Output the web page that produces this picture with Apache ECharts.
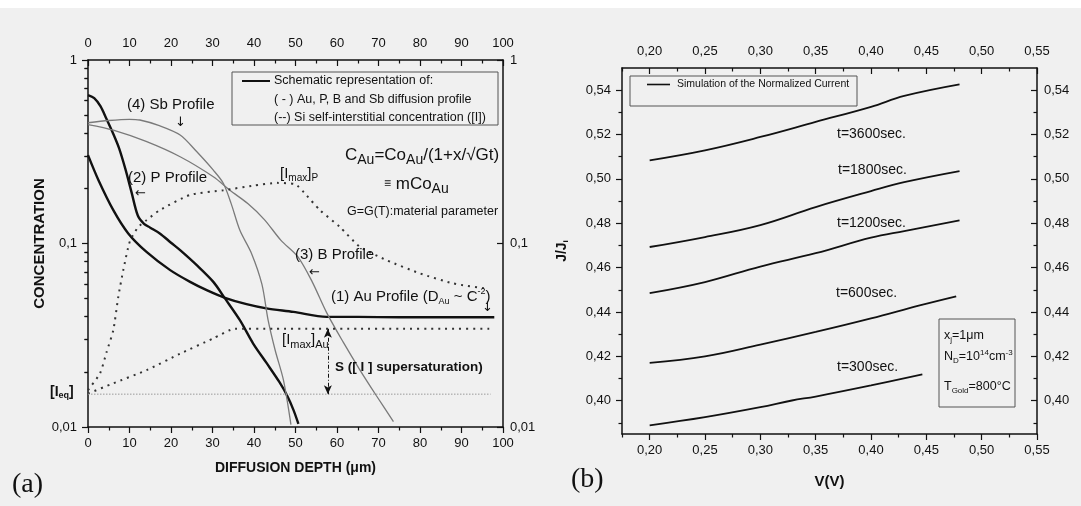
<!DOCTYPE html>
<html><head><meta charset="utf-8">
<script src="https://cdn.jsdelivr.net/npm/echarts@6/dist/echarts.min.js"></script>
<style>html,body{margin:0;padding:0;background:#f0f0f0}#c{width:1081px;height:506px}</style>
</head><body><div id="c"></div><script>
// ---------- Panel (a): concentration vs diffusion depth ----------
const auDepth = [0, 2.5, 6.1, 9.7, 14.1, 19.8, 24.6, 28.6, 33, 38.2, 43, 49.5, 57.5, 65, 75, 85, 97.9];
const auConc  = [0.303, 0.222, 0.152, 0.1135, 0.090, 0.0716, 0.0618, 0.0557, 0.0506, 0.0467, 0.0443, 0.0424, 0.0398, 0.0398, 0.0396, 0.0396, 0.0396];
const pDepth  = [0, 1.5, 3, 4.5, 6, 7.5, 9, 10.5, 12, 13.5, 15, 17.3, 20, 22.2, 26.2, 30.2, 33, 36.6, 39.8, 43.1, 46.1, 48, 49.5, 50.7];
const pConc   = [0.644, 0.62, 0.56, 0.475, 0.40, 0.33, 0.255, 0.19, 0.142, 0.128, 0.122, 0.1135, 0.101, 0.092, 0.0762, 0.0618, 0.0502, 0.0382, 0.0285, 0.0222, 0.0176, 0.0148, 0.0124, 0.0104];
const sbDepth = [0, 5, 10, 12.5, 17, 22.2, 26, 30.2, 32.6, 34.5, 36.6, 39.4, 41.9, 43.4, 45.1, 47.1, 48.9];
const sbConc  = [0.455, 0.468, 0.475, 0.471, 0.44, 0.39, 0.32, 0.251, 0.213, 0.165, 0.118, 0.0883, 0.06, 0.0382, 0.0262, 0.018, 0.0103];
const bDepth  = [0, 6.1, 14, 22.2, 30.2, 34.2, 38.5, 42.5, 46.5, 50.5, 54, 57.5, 61.5, 65.5, 69.5, 73.6];
const bConc   = [0.445, 0.415, 0.36, 0.297, 0.231, 0.195, 0.165, 0.135, 0.104, 0.085, 0.062, 0.042, 0.029, 0.0205, 0.0148, 0.0107];
const iPDepth = [0, 2.9, 4.5, 6.1, 7.3, 8.5, 10.1, 12.1, 14.1, 17.3, 24.6, 32.6, 40, 45.5, 50, 52, 55.9, 60.7, 65.5, 72, 80, 88, 96.5];
const iPConc  = [0.0159, 0.0196, 0.0257, 0.0337, 0.0512, 0.0716, 0.103, 0.123, 0.134, 0.152, 0.184, 0.195, 0.207, 0.214, 0.21, 0.19, 0.152, 0.123, 0.096, 0.081, 0.0687, 0.0606, 0.0565];
const iAuDepth = [0, 6.1, 14.1, 22.2, 30.2, 35.4, 45, 55, 65, 75, 85, 97];
const iAuConc  = [0.0152, 0.0173, 0.0204, 0.0251, 0.0304, 0.0343, 0.0343, 0.0343, 0.0343, 0.0343, 0.0343, 0.0343];
const ieqDepth = [0, 97];
const ieqConc  = [0.0151, 0.0151];
const superSatDepth = 57.8;
const superSatConc  = [0.0343, 0.0151];
const concMinorTicks = [0.02,0.03,0.04,0.05,0.06,0.07,0.08,0.09,0.2,0.3,0.4,0.5,0.6,0.7,0.8,0.9];

// ---------- Panel (b): J/Ji vs V ----------
const vTicks = [0.20, 0.25, 0.30, 0.35, 0.40, 0.45, 0.50, 0.55];
const vMinor = [0.175, 0.225, 0.275, 0.325, 0.375, 0.425, 0.475, 0.525];
const jTicks = [0.40, 0.42, 0.44, 0.46, 0.48, 0.50, 0.52, 0.54];
const jMinor = [0.39, 0.41, 0.43, 0.45, 0.47, 0.49, 0.51, 0.53];
const v3600 = [0.20, 0.25, 0.30, 0.35, 0.40, 0.43, 0.48];
const j3600 = [0.5084, 0.5129, 0.5189, 0.5257, 0.5325, 0.5374, 0.5426];
const v1800 = [0.20, 0.25, 0.30, 0.35, 0.40, 0.43, 0.48];
const j1800 = [0.4693, 0.4738, 0.4792, 0.4873, 0.4945, 0.4985, 0.5035];
const v1200 = [0.20, 0.25, 0.30, 0.35, 0.40, 0.43, 0.48];
const j1200 = [0.4485, 0.4535, 0.4605, 0.4665, 0.4735, 0.4765, 0.4813];
const v600  = [0.20, 0.25, 0.30, 0.35, 0.40, 0.444, 0.477];
const j600  = [0.4171, 0.4200, 0.4253, 0.4310, 0.4371, 0.4430, 0.4471];
const v300  = [0.20, 0.25, 0.30, 0.3285, 0.35, 0.40, 0.4464];
const j300  = [0.3889, 0.3926, 0.3971, 0.4001, 0.4019, 0.4069, 0.4119];

const FONT = 'Liberation Sans';
const INK = '#111';
const zip = (a, b) => a.map((v, i) => [v, b[i]]);

const chart = echarts.init(document.getElementById('c'), null, {renderer: 'canvas'});

const aLine = {show: true, onZero: false, lineStyle: {color: INK, width: 1.5}};
const lab = (extra) => Object.assign({color: INK, fontFamily: FONT, fontSize: 13}, extra);
const tick = (inside, len) => ({show: true, inside, length: len, lineStyle: {color: INK, width: 1.2}});
const commaFix = d => v => Number(v).toFixed(d).replace('.', ',');
const logFmt = v => String(+Number(v).toPrecision(3)).replace('.', ',');
const nameStyle = {color: INK, fontFamily: FONT, fontWeight: 'bold', fontSize: 14};

function xLinear(grid, pos, inside, showLabel) {
  return {gridIndex: grid, type: 'value', position: pos, min: 0, max: 100, interval: 10,
    axisLine: aLine, axisTick: tick(inside, 6),
    minorTick: {show: true, splitNumber: 2, length: 3.5, lineStyle: {color: INK, width: 1.2}},
    axisLabel: lab({show: showLabel, margin: 10}), splitLine: {show: false}, minorSplitLine: {show: false}};
}

const xAxes = [
  Object.assign(xLinear(0, 'bottom', false, true), {name: 'DIFFUSION DEPTH (μm)', nameLocation: 'middle', nameGap: 34, nameTextStyle: nameStyle}),
  xLinear(0, 'top', true, true),
  // panel b
  {gridIndex: 1, type: 'value', position: 'bottom', min: 0.175, max: 0.55,
   axisLine: aLine, axisTick: Object.assign(tick(false, 6), {customValues: vTicks}),
   axisLabel: lab({margin: 10, customValues: vTicks, formatter: commaFix(2)}), splitLine: {show: false},
   name: 'V(V)', nameLocation: 'middle', nameGap: 40, nameTextStyle: Object.assign({}, nameStyle, {fontSize: 15})},
  {gridIndex: 1, type: 'value', position: 'top', min: 0.175, max: 0.55,
   axisLine: aLine, axisTick: Object.assign(tick(true, 6), {customValues: vTicks}),
   axisLabel: lab({margin: 10, customValues: vTicks, formatter: commaFix(2)}), splitLine: {show: false}},
  {gridIndex: 1, type: 'value', position: 'bottom', min: 0.175, max: 0.55,
   axisLine: {show: false}, axisTick: Object.assign(tick(false, 3.5), {customValues: vMinor}),
   axisLabel: {show: false}, splitLine: {show: false}},
  {gridIndex: 1, type: 'value', position: 'top', min: 0.175, max: 0.55,
   axisLine: {show: false}, axisTick: Object.assign(tick(true, 3.5), {customValues: vMinor}),
   axisLabel: {show: false}, splitLine: {show: false}}
];

const logMinorVals = concMinorTicks.map(v => Math.log10(v));
const yAxes = [
  {gridIndex: 0, type: 'log', logBase: 10, min: 0.01, max: 1, position: 'left',
   axisLine: aLine, axisTick: tick(false, 6), axisLabel: lab({margin: 11, formatter: logFmt}), splitLine: {show: false},
   name: 'CONCENTRATION', nameLocation: 'middle', nameGap: 28, nameRotate: 90, nameTextStyle: Object.assign({}, nameStyle, {fontSize: 15})},
  {gridIndex: 0, type: 'log', logBase: 10, min: 0.01, max: 1, position: 'right',
   axisLine: aLine, axisTick: tick(true, 6), axisLabel: lab({margin: 7, formatter: logFmt}), splitLine: {show: false}},
  {gridIndex: 0, type: 'value', min: -2, max: 0, position: 'left',
   axisLine: {show: false}, axisTick: Object.assign(tick(false, 3.5), {customValues: logMinorVals}),
   axisLabel: {show: false}, splitLine: {show: false}},
  {gridIndex: 0, type: 'value', min: -2, max: 0, position: 'right',
   axisLine: {show: false}, axisTick: Object.assign(tick(true, 3.5), {customValues: logMinorVals}),
   axisLabel: {show: false}, splitLine: {show: false}},
  // panel b
  {gridIndex: 1, type: 'value', min: 0.385, max: 0.55, position: 'left',
   axisLine: aLine, axisTick: Object.assign(tick(false, 6), {customValues: jTicks}),
   axisLabel: lab({margin: 11, customValues: jTicks, formatter: commaFix(2)}), splitLine: {show: false},
   name: '{a|J/J}{b|i}', nameLocation: 'middle', nameGap: 52, nameRotate: 90,
   nameTextStyle: Object.assign({}, nameStyle, {rich: {a: {fontFamily: FONT, fontWeight: 'bold', fontSize: 14, color: INK}, b: {fontFamily: FONT, fontWeight: 'bold', fontSize: 8, color: INK, padding: [8, 0, 0, 0]}}})},
  {gridIndex: 1, type: 'value', min: 0.385, max: 0.55, position: 'right',
   axisLine: aLine, axisTick: Object.assign(tick(true, 6), {customValues: jTicks}),
   axisLabel: lab({margin: 7, customValues: jTicks, formatter: commaFix(2)}), splitLine: {show: false}},
  {gridIndex: 1, type: 'value', min: 0.385, max: 0.55, position: 'left',
   axisLine: {show: false}, axisTick: Object.assign(tick(false, 3.5), {customValues: jMinor}),
   axisLabel: {show: false}, splitLine: {show: false}},
  {gridIndex: 1, type: 'value', min: 0.385, max: 0.55, position: 'right',
   axisLine: {show: false}, axisTick: Object.assign(tick(true, 3.5), {customValues: jMinor}),
   axisLabel: {show: false}, splitLine: {show: false}}
];

function curveA(name, xs, ys, style, smooth) {
  return {name, type: 'line', xAxisIndex: 0, yAxisIndex: 0, data: zip(xs, ys), showSymbol: false, symbol: 'none',
    smooth: smooth, lineStyle: style, silent: true, z: 3};
}
function curveB(name, xs, ys) {
  return {name, type: 'line', xAxisIndex: 2, yAxisIndex: 4, data: zip(xs, ys), showSymbol: false, symbol: 'none',
    smooth: 0.4, lineStyle: {color: INK, width: 1.8}, silent: true};
}
const thick = {color: INK, width: 2.4};
const thin = {color: '#7a7a7a', width: 1.3};
const dots = {color: '#333', width: 2, type: [2, 5], cap: 'butt'};

const series = [
  curveA('Au', auDepth, auConc, thick, 0.3),
  curveA('P', pDepth, pConc, thick, 0.3),
  curveA('Sb', sbDepth, sbConc, thin, 0.3),
  curveA('B', bDepth, bConc, thin, 0.3),
  curveA('I P', iPDepth, iPConc, dots, 0.2),
  curveA('I Au', iAuDepth, iAuConc, dots, 0.2),
  curveA('Ieq', ieqDepth, ieqConc, {color: '#9a9a9a', width: 1, type: [1.5, 1.5]}, false),
  {type: 'line', xAxisIndex: 0, yAxisIndex: 0, data: [], silent: true,
   markLine: {silent: true, symbol: ['arrow', 'arrow'], symbolSize: [6, 9], label: {show: false},
     lineStyle: {color: INK, width: 1, type: [4, 2, 1, 2]},
     data: [[{coord: [superSatDepth, superSatConc[0]]}, {coord: [superSatDepth, superSatConc[1]]}]]}},
  curveB('t=3600', v3600, j3600),
  curveB('t=1800', v1800, j1800),
  curveB('t=1200', v1200, j1200),
  curveB('t=600', v600, j600),
  curveB('t=300', v300, j300)
];

const R = (fs, extra) => Object.assign({fontFamily: FONT, fontSize: fs, fill: INK}, extra || {});
function txt(x, y, text, fs, rich, extra) {
  return {type: 'text', x, y, z: 100, silent: true,
    style: Object.assign({text, fill: INK, fontFamily: FONT, fontSize: fs, align: 'left', verticalAlign: 'middle', rich: rich || {}}, extra || {})};
}
function box(x1, y1, x2, y2) {
  return {type: 'rect', z: 90, silent: true, shape: {x: x1, y: y1, width: x2 - x1, height: y2 - y1},
    style: {fill: 'none', stroke: '#555', lineWidth: 1}};
}
// subscript: lowered by `drop` px; superscript: raised by `rise` px (via token padding)
const subR = (fs, drop, extra) => Object.assign({fontFamily: FONT, fontSize: fs, fill: INK, padding: [2 * drop, 0, 0, 0]}, extra || {});
const supR = (fs, rise, extra) => Object.assign({fontFamily: FONT, fontSize: fs, fill: INK, padding: [0, 0, 2 * rise, 0]}, extra || {});
const arrowFont = 'DejaVu Sans';

const graphics = [
  {type: 'rect', z: -10, silent: true, shape: {x: 0, y: 0, width: 1081, height: 8}, style: {fill: '#ffffff'}},
  // panel a legend
  box(232, 72, 498, 125),
  {type: 'line', z: 95, silent: true, shape: {x1: 242, y1: 81, x2: 270, y2: 81}, style: {stroke: INK, lineWidth: 2}},
  txt(274, 81, 'Schematic representation of:', 12.5),
  txt(274, 100, '( - ) Au, P, B and Sb diffusion profile', 12.5),
  txt(274, 118, '(--) Si self-interstitial concentration ([I])', 12.5),
  // panel a annotations
  txt(127, 105, '(4) Sb Profile', 15),
  txt(175, 123, '↓', 13, null, {fontFamily: arrowFont}),
  txt(128, 178, '(2) P Profile', 15),
  txt(135, 194, '←', 13, null, {fontFamily: arrowFont}),
  txt(280, 174, '[I{s|max}]{s|P}', 15, {s: subR(10, 4)}),
  txt(345, 155, 'C{s|Au}=Co{s|Au}/(1+x/√Gt)', 17, {s: subR(14, 5)}),
  txt(384, 184, '{e|≡} mCo{s|Au}', 17, {s: subR(14, 5), e: R(12)}),
  txt(347, 212, 'G=G(T):material parameter', 12.5),
  txt(295, 255, '(3) B Profile', 15),
  txt(309, 273, '←', 13, null, {fontFamily: arrowFont}),
  txt(331, 297, '(1) Au Profile (D{s|Au} ~ C{p|-2})', 15, {s: subR(9, 5), p: supR(9, 5)}),
  txt(482, 308, '↓', 13, null, {fontFamily: arrowFont}),
  txt(282, 340, '[I{s|max}]{s|Au}', 15, {s: subR(11, 5)}),
  txt(335, 367, 'S ([ I ] supersaturation)', 13.5, null, {fontWeight: 'bold'}),
  txt(50, 392, '[I{s|eq}]', 14, {s: subR(9, 4, {fontWeight: 'bold'})}, {fontWeight: 'bold'}),
  txt(12, 485, '(a)', 28, null, {fontFamily: 'Liberation Serif'}),
  // panel b legend
  box(630, 76, 857, 106),
  {type: 'line', z: 95, silent: true, shape: {x1: 647, y1: 84.5, x2: 670, y2: 84.5}, style: {stroke: INK, lineWidth: 1.6}},
  txt(677, 84.5, 'Simulation of the Normalized Current', 10.5),
  // time labels
  txt(837, 134, 't=3600sec.', 14),
  txt(838, 170, 't=1800sec.', 14),
  txt(837, 223, 't=1200sec.', 14),
  txt(836, 293, 't=600sec.', 14),
  txt(837, 367, 't=300sec.', 14),
  // panel b parameter box
  box(939, 319, 1015, 407),
  txt(944, 336, 'x{s|j}=1μm', 12.5, {s: subR(8, 4)}),
  txt(944, 357, 'N{s|D}=10{p|14}cm{p|-3}', 12.5, {s: subR(8, 4), p: supR(8, 4)}),
  txt(944, 387, 'T{s|Gold}=800°C', 12.5, {s: subR(8, 4), p: supR(8, 4)}),
  txt(571, 480, '(b)', 28, null, {fontFamily: 'Liberation Serif'})
];

chart.setOption({
  backgroundColor: '#f0f0f0',
  animation: false,
  grid: [
    {left: 88, top: 60, width: 415, height: 367, containLabel: false, outerBoundsMode: 'none'},
    {left: 622, top: 68, width: 415, height: 366, containLabel: false, outerBoundsMode: 'none'}
  ],
  xAxis: xAxes,
  yAxis: yAxes,
  series: series,
  graphic: graphics
});
</script></body></html>
